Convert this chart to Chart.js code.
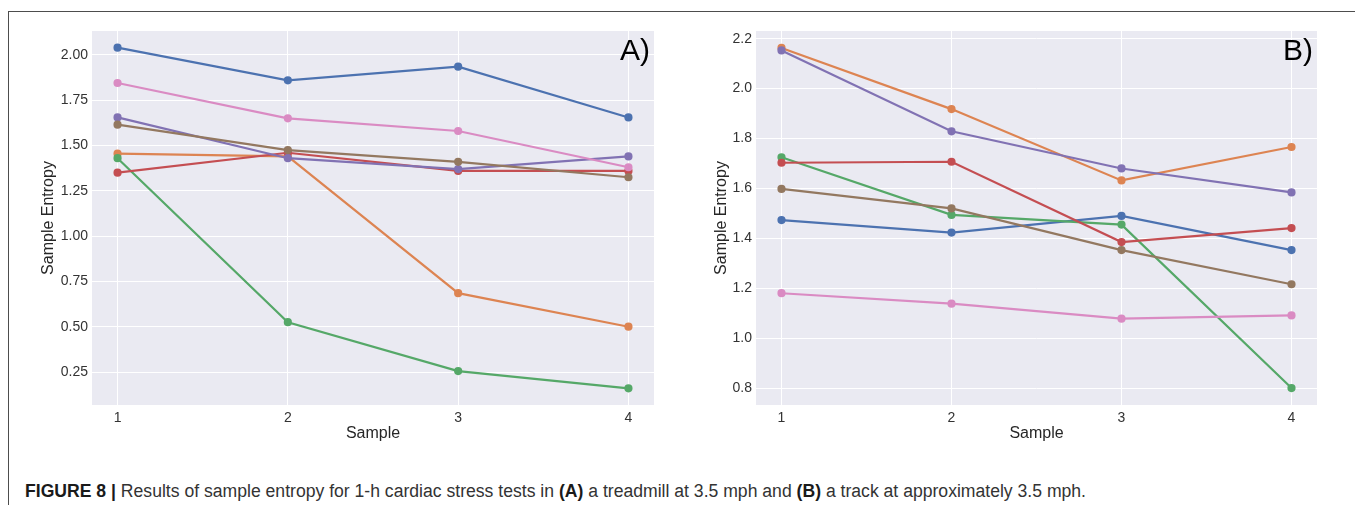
<!DOCTYPE html>
<html>
<head>
<meta charset="utf-8">
<script src="https://cdn.jsdelivr.net/npm/chart.js@4"></script>
<style>
  body { margin: 0; width: 1355px; height: 505px; background: #fff; position: relative; overflow: hidden;
         font-family: 'Liberation Sans', Arial, sans-serif; }
  #frame { position: absolute; left: 8px; top: 11px; width: 1400px; height: 600px;
           border-left: 1.5px solid #4d4d4d; border-top: 1.5px solid #4d4d4d; }
  canvas { position: absolute; top: 0; }
  #panelA { left: 0; }
  #panelB { left: 680px; }
  #caption { position: absolute; left: 25px; top: 483px; font-size: 17.6px; line-height: 17px; color: #333; white-space: nowrap; }
  #caption b { color: #1a1a1a; }
</style>
</head>
<body>
<div id="frame"></div>
<canvas id="panelA" width="680" height="450"></canvas>
<canvas id="panelB" width="675" height="450"></canvas>
<div id="caption"><b>FIGURE 8 |</b> Results of sample entropy for 1-h cardiac stress tests in <b>(A)</b> a treadmill at 3.5 mph and <b>(B)</b> a track at approximately 3.5 mph.</div>
<script>
    const samples = [1, 2, 3, 4];

    // (A) treadmill, one array per subject
    const treadS1 = [2.04, 1.86, 1.935, 1.655];
    const treadS2 = [1.455, 1.44, 0.685, 0.50];
    const treadS3 = [1.43, 0.525, 0.255, 0.16];
    const treadS4 = [1.35, 1.46, 1.36, 1.36];
    const treadS5 = [1.655, 1.43, 1.37, 1.44];
    const treadS6 = [1.615, 1.475, 1.41, 1.325];
    const treadS7 = [1.845, 1.65, 1.58, 1.38];

    // (B) track, one array per subject
    const trackS1 = [1.473, 1.423, 1.49, 1.353];
    const trackS2 = [2.163, 1.918, 1.632, 1.766];
    const trackS3 = [1.725, 1.494, 1.455, 0.80];
    const trackS4 = [1.703, 1.707, 1.385, 1.441];
    const trackS5 = [2.153, 1.829, 1.68, 1.584];
    const trackS6 = [1.598, 1.52, 1.353, 1.216];
    const trackS7 = [1.18, 1.138, 1.078, 1.091];

    const yTicksA = [0.25, 0.50, 0.75, 1.00, 1.25, 1.50, 1.75, 2.00];
    const yTicksB = [0.8, 1.0, 1.2, 1.4, 1.6, 1.8, 2.0, 2.2];

    // seaborn "deep"
    const palette = ['#4C72B0', '#DD8452', '#55A868', '#C44E52', '#8172B3', '#937860', '#DA8BC3'];

    const plotBg = {
        id: 'plotBg',
        beforeDraw(chart) {
            const { ctx, chartArea: a } = chart;
            ctx.save();
            ctx.fillStyle = '#EAEAF2';
            ctx.fillRect(a.left, a.top, a.right - a.left, a.bottom - a.top);
            ctx.restore();
        }
    };

    const panelTag = {
        id: 'panelTag',
        afterDraw(chart, args, opts) {
            const { ctx, chartArea: a } = chart;
            ctx.save();
            ctx.font = '30px "Liberation Sans", Arial, sans-serif';
            ctx.fillStyle = '#000';
            ctx.textAlign = 'right';
            ctx.textBaseline = 'alphabetic';
            ctx.fillText(opts.text, a.right - 4, a.top + 29);
            ctx.restore();
        }
    };

    function makePanel(id, series, yTicks, digits, yMin, yMax, pad, yWidth, yTitlePad) {
        const datasets = series.map((vals, i) => ({
            data: samples.map((s, k) => ({ x: s, y: vals[k] })),
            borderColor: palette[i],
            backgroundColor: palette[i],
            borderWidth: 2.2,
            pointRadius: 3,
            pointHoverRadius: 3,
            order: series.length - i
        }));

        return new Chart(document.getElementById(id), {
            type: 'line',
            data: { datasets },
            options: {
                responsive: false,
                animation: false,
                layout: { padding: pad },
                plugins: {
                    legend: { display: false },
                    tooltip: { enabled: false },
                    panelTag: { text: id === 'panelA' ? 'A)' : 'B)' }
                },
                scales: {
                    x: {
                        type: 'linear',
                        min: 0.85,
                        max: 4.15,
                        afterBuildTicks: sc => { sc.ticks = samples.map(v => ({ value: v })); },
                        afterFit: sc => { sc.height = 42; },
                        border: { display: false },
                        grid: { color: '#ffffff', lineWidth: 1, drawTicks: false },
                        ticks: {
                            padding: 5,
                            color: '#333',
                            font: { family: 'Liberation Sans', size: 14 },
                            callback: v => String(v)
                        },
                        title: {
                            display: true,
                            text: 'Sample',
                            color: '#262626',
                            font: { family: 'Liberation Sans', size: 16 },
                            padding: { top: 4, bottom: 4 }
                        }
                    },
                    y: {
                        min: yMin,
                        max: yMax,
                        afterBuildTicks: sc => { sc.ticks = yTicks.map(v => ({ value: v })); },
                        afterFit: sc => { sc.width = yWidth; },
                        border: { display: false },
                        grid: { color: '#ffffff', lineWidth: 1, drawTicks: false },
                        ticks: {
                            padding: 4,
                            color: '#333',
                            font: { family: 'Liberation Sans', size: 14 },
                            callback: v => Number(v).toFixed(digits)
                        },
                        title: {
                            display: true,
                            text: 'Sample Entropy',
                            color: '#262626',
                            font: { family: 'Liberation Sans', size: 16 },
                            padding: { top: yTitlePad, bottom: 0 }
                        }
                    }
                }
            },
            plugins: [plotBg, panelTag]
        });
    }

    makePanel('panelA',
        [treadS1, treadS2, treadS3, treadS4, treadS5, treadS6, treadS7],
        yTicksA, 2, 0.068, 2.132,
        { left: 30, right: 26, top: 31, bottom: 3 }, 62, 9);

    makePanel('panelB',
        [trackS1, trackS2, trackS3, trackS4, trackS5, trackS6, trackS7],
        yTicksB, 1, 0.732, 2.231,
        { left: 20, right: 38, top: 31, bottom: 3 }, 56, 12);
</script>
</body>
</html>
